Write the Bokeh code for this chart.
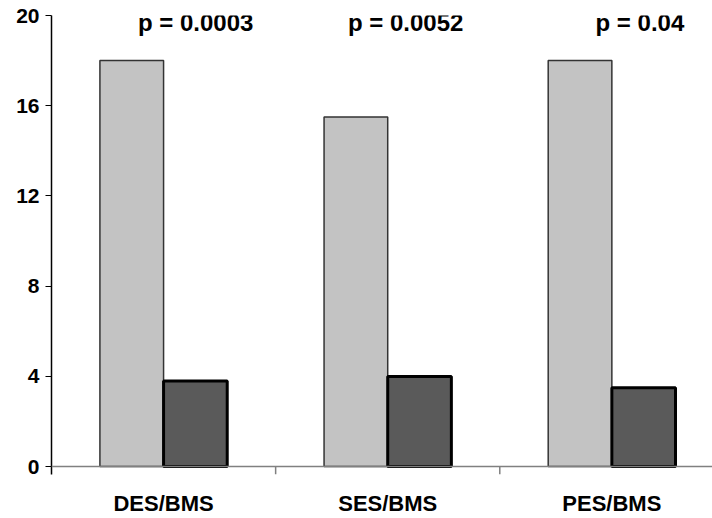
from bokeh.plotting import figure
from bokeh.models import Range1d, FixedTicker, Span, ColumnDataSource
from bokeh.transform import dodge
from bokeh.core.properties import value
from bokeh.embed import file_html
from bokeh.resources import INLINE

categories = ["DES/BMS", "SES/BMS", "PES/BMS"]
light_values = [18.0, 15.5, 18.0]
dark_values = [3.8, 4.0, 3.5]
p_labels = ["p = 0.0003", "p = 0.0052", "p = 0.04"]
y_ticks = [0, 4, 8, 12, 16, 20]

FONT = "Liberation Sans"

centers = [i + 0.5 for i in range(len(categories))]
src = ColumnDataSource(dict(x=centers, light=light_values, dark=dark_values))

p = figure(width=712, height=518, output_backend="svg", toolbar_location=None,
           x_range=Range1d(0, 2.949), y_range=Range1d(-0.35, 20),
           min_border_left=51, min_border_right=0, min_border_top=15, min_border_bottom=42)
p.outline_line_color = None
p.xgrid.visible = False
p.ygrid.visible = False
p.background_fill_color = "white"
p.border_fill_color = "white"

p.vbar(x=dodge("x", -0.142, range=p.x_range), top="light", bottom=0, width=0.284,
       source=src, fill_color="#C3C3C3", line_color="#333333", line_width=1.5)
p.vbar(x=dodge("x", 0.142, range=p.x_range), top="dark", bottom=0, width=0.284,
       source=src, fill_color="#5A5A5A", line_color="#000000", line_width=3)

# x axis baseline at zero
p.add_layout(Span(location=0, dimension="width", line_color="#808080", line_width=1.5))
# category separator ticks
sep_x = [i for i in range(1, len(categories))]
p.segment(x0=sep_x, y0=[0] * len(sep_x), x1=sep_x, y1=[-0.35] * len(sep_x),
          line_color="#808080", line_width=1.5)

# p-value annotations
p_offsets = [0.143, 0.080, 0.125]
p_x = [c + o for c, o in zip(centers, p_offsets)]
p.text(x=p_x, y=[19.69] * len(p_x), text=p_labels, text_align="center",
       text_baseline="middle", text_font=value(FONT), text_font_style="bold",
       text_font_size="24px", text_color="black")

# y axis
p.yaxis.ticker = FixedTicker(ticks=y_ticks)
p.yaxis.minor_tick_line_color = None
p.yaxis.major_tick_in = 0
p.yaxis.major_tick_out = 6
p.yaxis.major_tick_line_color = "black"
p.yaxis.axis_line_color = "black"
p.yaxis.axis_line_width = 1.5
p.yaxis.major_label_text_font = FONT
p.yaxis.major_label_text_font_style = "bold"
p.yaxis.major_label_text_font_size = "21px"
p.yaxis.major_label_text_color = "black"
p.yaxis.major_label_standoff = 6

# x axis (labels only)
xa = p.xaxis[0]
xa.ticker = FixedTicker(ticks=centers)
xa.major_label_overrides = {c: lab for c, lab in zip(centers, categories)}
xa.axis_line_color = None
xa.major_tick_line_color = None
xa.minor_tick_line_color = None
xa.major_label_text_font = FONT
xa.major_label_text_font_style = "bold"
xa.major_label_text_font_size = "22px"
xa.major_label_text_color = "black"
xa.major_label_standoff = 10

open("out.html", "w").write(file_html(p, INLINE))
